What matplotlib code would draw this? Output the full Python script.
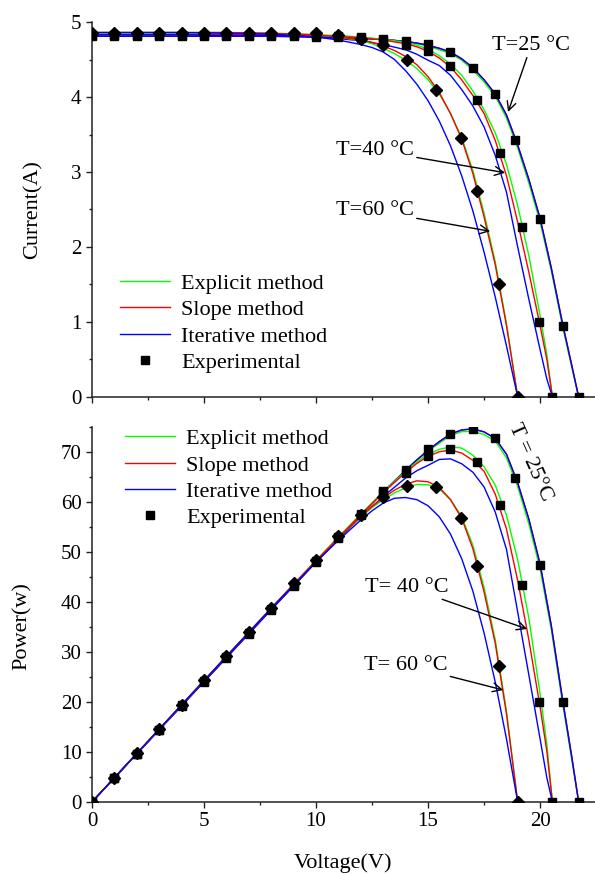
import matplotlib.pyplot as plt
from matplotlib.ticker import MultipleLocator

plt.rcParams['font.family'] = ['Liberation Serif', 'DejaVu Serif']

# ---- model curves: voltage grids (V) and current (A) / power (W) ----
v25 = [0, 2, 4, 6, 8, 10, 11, 12, 13, 14, 14.5, 15, 15.5, 16, 16.5, 17, 17.5, 18, 18.5, 19, 19.5, 20, 20.5, 21, 21.4, 21.72]
i25_explicit = [4.82, 4.82, 4.82, 4.82, 4.82, 4.81, 4.80, 4.79, 4.77, 4.74, 4.71, 4.68, 4.63, 4.58, 4.49, 4.36, 4.20, 4.01, 3.72, 3.32, 2.85, 2.33, 1.68, 0.94, 0.41, 0]
i25_slope = [4.81, 4.81, 4.81, 4.81, 4.81, 4.80, 4.79, 4.78, 4.77, 4.74, 4.72, 4.69, 4.65, 4.60, 4.51, 4.39, 4.23, 4.04, 3.76, 3.36, 2.90, 2.38, 1.72, 0.98, 0.44, 0]
i25_iter = [4.81, 4.81, 4.81, 4.81, 4.81, 4.80, 4.79, 4.78, 4.77, 4.74, 4.72, 4.69, 4.65, 4.60, 4.51, 4.39, 4.23, 4.04, 3.76, 3.36, 2.90, 2.38, 1.72, 0.98, 0.44, 0]
p25_explicit = [0, 9.64, 19.28, 28.92, 38.56, 48.1, 52.8, 57.48, 62.01, 66.36, 68.30, 70.2, 71.77, 73.28, 74.09, 74.12, 73.5, 72.18, 68.82, 63.08, 55.58, 46.6, 34.44, 19.74, 8.77, 0]
p25_slope = [0, 9.62, 19.24, 28.86, 38.48, 48.0, 52.69, 57.36, 62.01, 66.36, 68.44, 70.35, 72.08, 73.6, 74.42, 74.63, 74.03, 72.72, 69.56, 63.84, 56.55, 47.6, 35.26, 20.58, 9.42, 0]
p25_iter = [0, 9.62, 19.24, 28.86, 38.48, 48.0, 52.69, 57.36, 62.01, 66.36, 68.44, 70.35, 72.08, 73.6, 74.42, 74.63, 74.03, 72.72, 69.56, 63.84, 56.55, 47.6, 35.26, 20.58, 9.42, 0]

v40 = [0, 2, 4, 6, 8, 10, 11, 12, 13, 14, 14.5, 15, 15.5, 16, 16.5, 17, 17.5, 18, 18.5, 19, 19.5, 20, 20.3, 20.55]
i40_explicit = [4.84, 4.84, 4.84, 4.84, 4.84, 4.83, 4.82, 4.80, 4.77, 4.73, 4.69, 4.64, 4.55, 4.44, 4.29, 4.08, 3.83, 3.52, 3.10, 2.55, 1.88, 1.08, 0.57, 0]
i40_slope = [4.83, 4.83, 4.83, 4.83, 4.83, 4.82, 4.81, 4.79, 4.76, 4.71, 4.67, 4.61, 4.52, 4.40, 4.23, 4.02, 3.78, 3.42, 2.95, 2.33, 1.66, 0.95, 0.50, 0]
i40_iter = [4.83, 4.83, 4.83, 4.82, 4.82, 4.80, 4.78, 4.75, 4.70, 4.63, 4.57, 4.49, 4.42, 4.29, 4.10, 3.88, 3.60, 3.22, 2.73, 2.00, 1.30, 0.63, 0.24, 0]
p40_explicit = [0, 9.68, 19.36, 29.04, 38.72, 48.3, 53.02, 57.6, 62.01, 66.22, 68.0, 69.6, 70.53, 71.04, 70.79, 69.36, 67.03, 63.36, 57.35, 48.45, 36.66, 21.6, 11.57, 0]
p40_slope = [0, 9.66, 19.32, 28.98, 38.64, 48.2, 52.91, 57.48, 61.88, 65.94, 67.72, 69.15, 70.06, 70.4, 69.8, 68.34, 66.15, 61.56, 54.58, 44.27, 32.37, 19.0, 10.15, 0]
p40_iter = [0, 9.66, 19.32, 28.92, 38.56, 48.0, 52.58, 57.0, 61.1, 64.82, 66.27, 67.35, 68.51, 68.64, 67.65, 65.96, 63.0, 57.96, 50.51, 38.0, 25.35, 12.6, 4.87, 0]

v60 = [0, 2, 4, 6, 8, 10, 11, 12, 12.5, 13, 13.5, 14, 14.5, 15, 15.5, 16, 16.5, 17, 17.5, 18, 18.5, 19.0]
i60_explicit = [4.86, 4.86, 4.86, 4.86, 4.85, 4.83, 4.80, 4.75, 4.71, 4.65, 4.58, 4.49, 4.38, 4.23, 4.04, 3.78, 3.46, 3.02, 2.45, 1.80, 0.98, 0]
i60_slope = [4.86, 4.86, 4.86, 4.86, 4.85, 4.83, 4.80, 4.76, 4.73, 4.68, 4.62, 4.54, 4.43, 4.27, 4.06, 3.78, 3.44, 2.98, 2.40, 1.76, 0.95, 0]
i60_iter = [4.86, 4.86, 4.86, 4.85, 4.84, 4.80, 4.76, 4.70, 4.66, 4.60, 4.50, 4.35, 4.17, 3.95, 3.68, 3.35, 2.95, 2.48, 1.93, 1.33, 0.68, 0]
p60_explicit = [0, 9.72, 19.44, 29.16, 38.8, 48.3, 52.8, 57.0, 58.88, 60.45, 61.83, 62.86, 63.51, 63.45, 62.62, 60.48, 57.09, 51.34, 42.88, 32.4, 18.13, 0]
p60_slope = [0, 9.72, 19.44, 29.16, 38.8, 48.3, 52.8, 57.12, 59.13, 60.84, 62.37, 63.56, 64.24, 64.05, 62.93, 60.48, 56.76, 50.66, 42.0, 31.68, 17.58, 0]
p60_iter = [0, 9.72, 19.44, 29.1, 38.72, 48.0, 52.36, 56.4, 58.25, 59.8, 60.75, 60.9, 60.47, 59.25, 57.04, 53.6, 48.68, 42.16, 33.78, 23.94, 12.58, 0]

# ---- experimental points ----
e25_v = [0, 1, 2, 3, 4, 5, 6, 7, 8, 9, 10, 11, 12, 13, 14, 15, 16, 17, 18, 18.9, 20, 21, 21.72]
e25_i = [4.81, 4.81, 4.81, 4.81, 4.81, 4.81, 4.81, 4.81, 4.81, 4.81, 4.80, 4.80, 4.79, 4.78, 4.75, 4.71, 4.60, 4.39, 4.04, 3.43, 2.37, 0.95, 0]
e25_p = [0, 4.81, 9.62, 14.43, 19.24, 24.05, 28.86, 33.67, 38.48, 43.29, 48.0, 52.8, 57.48, 62.14, 66.5, 70.65, 73.6, 74.63, 72.72, 64.83, 47.4, 19.95, 0]

e40_v = [0, 1, 2, 3, 4, 5, 6, 7, 8, 9, 10, 11, 12, 13, 14, 15, 16, 17.17, 18.23, 19.18, 19.97, 20.55]
e40_i = [4.83, 4.83, 4.83, 4.83, 4.83, 4.83, 4.83, 4.83, 4.83, 4.83, 4.83, 4.82, 4.80, 4.75, 4.70, 4.62, 4.41, 3.96, 3.26, 2.26, 1.00, 0]
e40_p = [0, 4.83, 9.66, 14.49, 19.32, 24.15, 28.98, 33.81, 38.64, 43.47, 48.3, 53.02, 57.6, 61.75, 65.8, 69.3, 70.56, 67.99, 59.43, 43.35, 19.97, 0]

e60_v = [0, 1, 2, 3, 4, 5, 6, 7, 8, 9, 10, 11, 12, 13, 14.06, 15.36, 16.45, 17.2, 18.18, 19.0]
e60_i = [4.86, 4.86, 4.86, 4.86, 4.86, 4.86, 4.86, 4.86, 4.86, 4.86, 4.85, 4.83, 4.78, 4.69, 4.50, 4.10, 3.45, 2.75, 1.50, 0]
e60_p = [0, 4.86, 9.72, 14.58, 19.44, 24.3, 29.16, 34.02, 38.88, 43.74, 48.5, 53.13, 57.36, 60.97, 63.27, 62.98, 56.75, 47.3, 27.27, 0]

GREEN, RED, BLUE = '#00ff00', '#ff0000', '#0000ff'
LW = 1.0
FS = 15     # tick labels
TFS = 16    # legend, annotations, axis titles

fig = plt.figure(figsize=(5.95, 8.74), dpi=100)
ax1 = fig.add_axes([0.1546, 0.5458, 0.8454, 0.4290])
ax2 = fig.add_axes([0.1546, 0.0824, 0.8454, 0.4290])

temps_i = [(v25, i25_explicit, i25_slope, i25_iter),
           (v40, i40_explicit, i40_slope, i40_iter),
           (v60, i60_explicit, i60_slope, i60_iter)]
temps_p = [(v25, p25_explicit, p25_slope, p25_iter),
           (v40, p40_explicit, p40_slope, p40_iter),
           (v60, p60_explicit, p60_slope, p60_iter)]

for ax, temps, exps in [(ax1, temps_i, [(e25_v, e25_i, 's'), (e40_v, e40_i, 's'), (e60_v, e60_i, 'D')]),
                        (ax2, temps_p, [(e25_v, e25_p, 's'), (e40_v, e40_p, 's'), (e60_v, e60_p, 'D')])]:
    for k, (v, g, r, b) in enumerate(temps):
        ax.plot(v, g, color=GREEN, lw=LW, label='Explicit method' if k == 0 else None)
        ax.plot(v, r, color=RED, lw=LW, label='Slope method' if k == 0 else None)
        ax.plot(v, b, color=BLUE, lw=LW, label='Iterative method' if k == 0 else None)
    for k, (v, y, m) in enumerate(exps):
        ax.plot(v, y, ls='none', marker=m, color='black', ms=5.5 if m == 's' else 6,
                label='Experimental' if k == 0 else None, zorder=5)

for ax in (ax1, ax2):
    ax.set_xlim(0, 22.45)
    ax.spines['top'].set_visible(False)
    ax.spines['right'].set_visible(False)
    for s in ('left', 'bottom'):
        ax.spines[s].set_linewidth(1.1)
        ax.spines[s].set_color('#222222')
    ax.xaxis.set_major_locator(MultipleLocator(5))
    ax.xaxis.set_minor_locator(MultipleLocator(2.5))
    ax.tick_params(which='major', direction='out', length=4, width=1.0, labelsize=FS, color='#222222')
    ax.tick_params(which='minor', direction='out', length=2.5, width=1.0, color='#222222')

ax1.set_ylim(0, 5)
ax1.yaxis.set_major_locator(MultipleLocator(1))
ax1.yaxis.set_minor_locator(MultipleLocator(0.5))
ax1.tick_params(labelbottom=False)
ax1.set_ylabel('Current(A)', fontsize=TFS)
ax1.yaxis.set_label_coords(-0.098, 0.5)

ax2.set_ylim(0, 75)
ax2.yaxis.set_major_locator(MultipleLocator(10))
ax2.yaxis.set_minor_locator(MultipleLocator(5))
ax2.set_ylabel('Power(w)', fontsize=TFS)
ax2.yaxis.set_label_coords(-0.12, 0.47)
ax2.set_xlabel('Voltage(V)', fontsize=TFS, labelpad=16)

leg_kw = dict(frameon=False, fontsize=TFS, handlelength=2.25, handletextpad=0.5,
              labelspacing=0.26, borderpad=0, borderaxespad=0, loc='center left')
ax1.legend(bbox_to_anchor=(0.056, 0.197), **leg_kw)
ax2.legend(bbox_to_anchor=(0.066, 0.863), **leg_kw)

arrow = dict(arrowstyle='->', color='black', lw=1.0, mutation_scale=16, shrinkA=0, shrinkB=0)
ax1.annotate('T=25 °C', xy=(18.57, 3.80), xytext=(19.6, 4.69), fontsize=TFS,
             ha='center', va='center', arrowprops=arrow)
ax1.annotate('T=40 °C', xy=(18.44, 2.99), xytext=(12.63, 3.29), fontsize=TFS,
             ha='center', va='center', arrowprops=arrow)
ax1.annotate('T=60 °C', xy=(17.77, 2.21), xytext=(12.63, 2.48), fontsize=TFS,
             ha='center', va='center', arrowprops=arrow)

ax2.text(19.55, 68.0, 'T = 25°C', fontsize=TFS, rotation=-66, ha='center', va='center')
ax2.annotate('T= 40 °C', xy=(19.42, 34.6), xytext=(14.06, 43.0), fontsize=TFS,
             ha='center', va='center', arrowprops=arrow)
ax2.annotate('T= 60 °C', xy=(18.35, 22.4), xytext=(14.0, 27.4), fontsize=TFS,
             ha='center', va='center', arrowprops=arrow)

fig.savefig('out.png', dpi=100)
